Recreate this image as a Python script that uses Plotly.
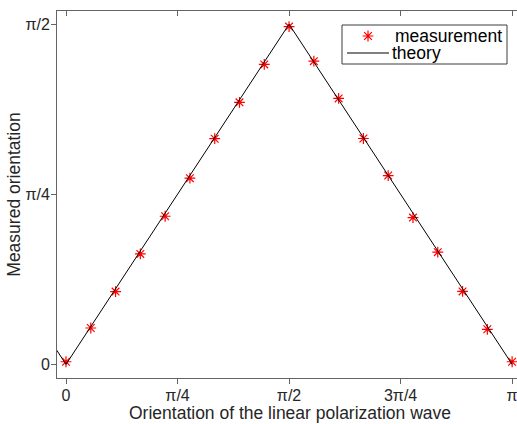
import numpy as np
import plotly.graph_objects as go

PI = np.pi
# measurement: orientation of input wave (k * 10 deg) and measured orientation (rad)
meas_x = [k * PI / 18 for k in range(19)]
meas_y = [0.012, 0.168, 0.336, 0.510, 0.684, 0.860, 1.042, 1.210, 1.385, 1.560,
          1.400, 1.228, 1.043, 0.872, 0.678, 0.518, 0.337, 0.162, 0.012]
# theory polyline vertices
theory_x = [-0.2, 0.0, PI / 2, PI]
theory_y = [0.2, 0.0, PI / 2, 0.0]

x_tickvals = [0, PI / 4, PI / 2, 3 * PI / 4, PI]
x_ticktext = ["0", "π/4", "π/2", "3π/4", "π"]
y_tickvals = [0, PI / 4, PI / 2]
y_ticktext = ["0", "π/4", "π/2"]
series_names = ["measurement", "theory"]
x_title = "Orientation of the linear polarization wave"
y_title = "Measured orientation"

XR = [-0.0634, 3.176]
YR = [-0.063, PI / 2 + 0.061]

# plot-area geometry (pixels) used to place the hand-made legend
L, R, T, B = 57, 517, 11, 378


def px(xp):
    return (xp - L) / (R - L)


def py(yp):
    return (B - yp) / (B - T)


font_family = "Liberation Sans, Arial, Helvetica, sans-serif"
txt = "#262626"
axc = "rgb(100,100,100)"
MARKER = dict(symbol="asterisk-open", size=9, color="red",
              line=dict(color="red", width=1.2))

fig = go.Figure()
fig.add_trace(go.Scatter(
    x=meas_x, y=meas_y, mode="markers", name=series_names[0],
    marker=MARKER, showlegend=False,
))
fig.add_trace(go.Scatter(
    x=theory_x, y=theory_y, mode="lines", name=series_names[1],
    line=dict(color="black", width=1), showlegend=False,
))
# dummy trace to activate the top mirror axis
fig.add_trace(go.Scatter(x=[None], y=[None], xaxis="x2", showlegend=False,
                         hoverinfo="skip"))
# legend sample marker on a hidden overlay axis spanning the plot area
fig.add_trace(go.Scatter(x=[px(368)], y=[py(36)], xaxis="x3", yaxis="y3",
                         mode="markers", marker=MARKER, showlegend=False,
                         hoverinfo="skip"))

shapes = [
    dict(type="rect", xref="paper", yref="paper",
         x0=px(342), x1=px(507), y0=py(64), y1=py(25),
         line=dict(color="rgb(60,60,60)", width=1), fillcolor="white",
         layer="below"),
    dict(type="line", xref="paper", yref="paper",
         x0=px(347), x1=px(389), y0=py(53), y1=py(53),
         line=dict(color="black", width=1)),
]
annotations = [
    dict(text=series_names[0], xref="paper", yref="paper", x=px(393),
         y=py(35.5), xanchor="left", yanchor="middle", showarrow=False,
         font=dict(size=17.5, color="black")),
    dict(text=series_names[1], xref="paper", yref="paper", x=px(390),
         y=py(53), xanchor="left", yanchor="middle", showarrow=False,
         font=dict(size=17.5, color="black")),
    dict(text=x_title, xref="paper", yref="paper", x=px(290), y=py(413),
         xanchor="center", yanchor="middle", showarrow=False,
         font=dict(size=17.5, color=txt)),
]

fig.update_layout(
    width=517, height=424,
    margin=dict(l=L, r=517 - R, t=T, b=424 - B, autoexpand=False),
    paper_bgcolor="white", plot_bgcolor="white",
    font=dict(family=font_family, size=16, color=txt),
    showlegend=False,
    shapes=shapes,
    annotations=annotations,
    xaxis=dict(range=XR, tickmode="array", tickvals=x_tickvals,
               ticktext=x_ticktext, ticks="outside", ticklen=5,
               tickcolor=axc, showline=True, linecolor=axc, linewidth=1,
               mirror=True, showgrid=False, zeroline=False,
               ticklabeloverflow="allow", ticklabelstandoff=-2,
               tickfont=dict(size=16, color=txt)),
    xaxis2=dict(range=XR, overlaying="x", side="top", tickmode="array",
                tickvals=x_tickvals, ticks="inside", ticklen=5,
                tickcolor=axc, showticklabels=False, showline=False,
                showgrid=False, zeroline=False),
    xaxis3=dict(range=[0, 1], overlaying="x", visible=False,
                domain=[0, 1]),
    yaxis3=dict(range=[0, 1], overlaying="y", visible=False, anchor="x3"),
    yaxis=dict(range=YR, tickmode="array", tickvals=y_tickvals,
               ticktext=y_ticktext, ticks="outside", ticklen=5,
               tickcolor=axc, showline=True, linecolor=axc, linewidth=1,
               mirror=True, showgrid=False, zeroline=False,
               ticklabelstandoff=-2,
               title=dict(text=y_title, standoff=0,
                          font=dict(size=17.5, color=txt)),
               tickfont=dict(size=16, color=txt)),
)

fig.write_html("out.html",
               config={"displayModeBar": False},
               post_script="document.body.style.margin='0';"
                           "document.body.style.overflow='hidden';")
